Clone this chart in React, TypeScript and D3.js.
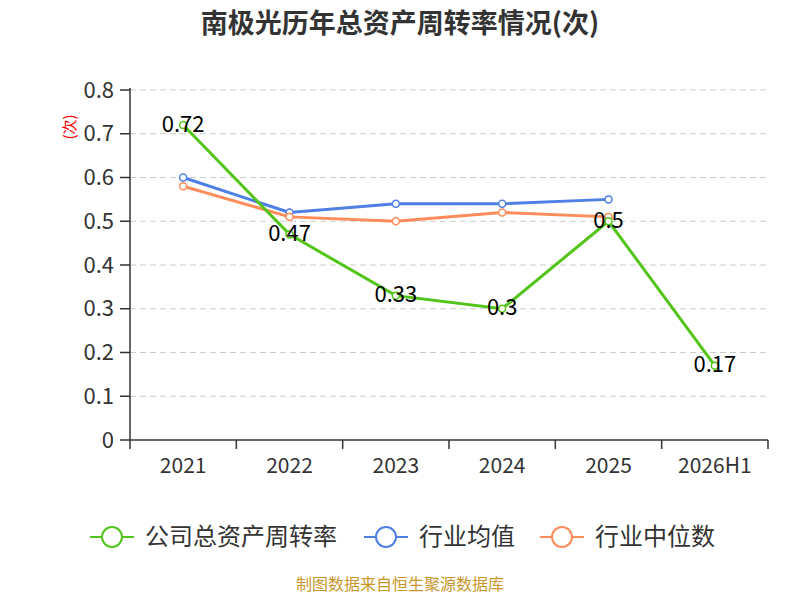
import React from "react";
import * as d3 from "d3";

const categories = ["2021", "2022", "2023", "2024", "2025", "2026H1"];
const companyValues = [0.72, 0.47, 0.33, 0.3, 0.5, 0.17];
const industryAvg = [0.6, 0.52, 0.54, 0.54, 0.55];
const industryMedian = [0.58, 0.51, 0.5, 0.52, 0.51];
const yTicks = [0, 0.1, 0.2, 0.3, 0.4, 0.5, 0.6, 0.7, 0.8];

const FONT = "'Noto Sans CJK SC', 'Noto Sans', sans-serif";
const GREEN = "#52c41a";
const BLUE = "#4e7fe5";
const ORANGE = "#ff8c5a";

export default function App() {
  const x = d3.scaleBand().domain(categories).range([130, 768]);
  const y = d3.scaleLinear().domain([0, 0.8]).range([440, 90]);
  const cx = (c: string) => (x(c) as number) + x.bandwidth() / 2;
  const line = d3.line<number>().x((_, i) => cx(categories[i])).y((v) => y(v));
  const series = [
    { vals: industryAvg, color: BLUE },
    { vals: industryMedian, color: ORANGE },
  ];
  const legend = [
    { label: "公司总资产周转率", color: GREEN, x: 90 },
    { label: "行业均值", color: BLUE, x: 364 },
    { label: "行业中位数", color: ORANGE, x: 540 },
  ];
  return (
    <svg width={800} height={600} style={{ position: "absolute", left: 0, top: 0 }} fontFamily={FONT}>
      <rect width={800} height={600} fill="#fff" />
      <text x={400} y={33} textAnchor="middle" fontSize={27} fontWeight="bold" fill="#333">南极光历年总资产周转率情况(次)</text>
      {yTicks.map((t) => (
        <g key={t}>
          {t > 0 && <line x1={130} x2={768} y1={y(t)} y2={y(t)} stroke="#ccc" strokeDasharray="6,4" />}
          <line x1={120} x2={130} y1={y(t)} y2={y(t)} stroke="#333" strokeWidth={1.5} />
          <text x={114} y={y(t)} dy="0.35em" textAnchor="end" fontSize={22} fill="#333">{String(t)}</text>
        </g>
      ))}
      <line x1={130} x2={130} y1={88} y2={440} stroke="#333" strokeWidth={1.5} />
      <line x1={130} x2={768} y1={440} y2={440} stroke="#333" strokeWidth={1.5} />
      {categories.map((c) => (
        <g key={c}>
          <line x1={x(c) as number} x2={x(c) as number} y1={440} y2={449} stroke="#333" strokeWidth={1.5} />
          <text x={cx(c)} y={473} textAnchor="middle" fontSize={21} fill="#333">{c}</text>
        </g>
      ))}
      <line x1={768} x2={768} y1={440} y2={449} stroke="#333" strokeWidth={1.5} />
      <text transform="translate(70,127) rotate(-90)" textAnchor="middle" dy="0.35em" fontSize={15} fill="red">(次)</text>
      {series.map((s, k) => (
        <g key={k}>
          <path d={line(s.vals) as string} fill="none" stroke={s.color} strokeWidth={3} />
          {s.vals.map((v, i) => (
            <circle key={i} cx={cx(categories[i])} cy={y(v)} r={3.5} fill="#fff" stroke={s.color} strokeWidth={1.5} />
          ))}
        </g>
      ))}
      <path d={line(companyValues) as string} fill="none" stroke={GREEN} strokeWidth={3} />
      {companyValues.map((v, i) => (
        <g key={i}>
          <circle cx={cx(categories[i])} cy={y(v)} r={3.5} fill="#fff" stroke={GREEN} strokeWidth={1.5} />
          <text x={cx(categories[i])} y={y(v)} dy="0.3em" textAnchor="middle" fontSize={22} fill="#000">{String(v)}</text>
        </g>
      ))}
      {legend.map((l) => (
        <g key={l.label}>
          <line x1={l.x} x2={l.x + 44} y1={537} y2={537} stroke={l.color} strokeWidth={2} />
          <circle cx={l.x + 22} cy={537} r={10} fill="#fff" stroke={l.color} strokeWidth={2} />
          <text x={l.x + 55} y={537} dy="0.35em" fontSize={24} fill="#333">{l.label}</text>
        </g>
      ))}
      <text x={400} y={590} textAnchor="middle" fontSize={16} fill="#c8962a">制图数据来自恒生聚源数据库</text>
    </svg>
  );
}
